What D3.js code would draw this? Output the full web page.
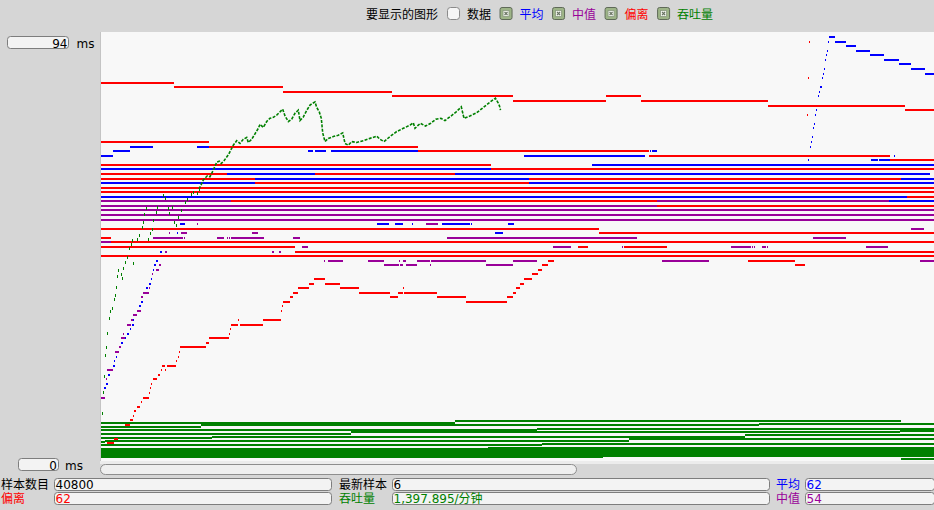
<!DOCTYPE html>
<html><head><meta charset="utf-8">
<script src="https://cdn.jsdelivr.net/npm/d3@7"></script>
<style>
body{margin:0;background:#d6d6d6;}
svg{display:block;font-family:"DejaVu Sans","Noto Sans CJK SC",sans-serif;font-size:12px;}
</style></head><body>
<svg id="c" width="934" height="510"></svg>
<script>
// ---------------- DATA ----------------
const legendTitle = "要显示的图形";
const legendLabels = ["数据", "平均", "中值", "偏离", "吞吐量"];
const legendChecked = [false, true, true, true, true];
const legendColors = ["#000000", "#0000ff", "#990099", "#ff0000", "#008000"];

const yTickLabels = ["94", "0"];
const yUnit = "ms";
const yMax = 94;
const sampleColumns = 833;

// segments: [fromSample, toSample, value(ms)]
const meanSegments = [
  [706.8,707.8,66],[709,710,69],[709.8,710.8,70],[711,712,71],[712,713,73],[713,714,74],[714,715,76],[715,716,77],
  [716.5,718,80],[718,719,81],[719,721,82],[721,722,84],[722,723,85],[723,724,86],[724,725,88],[725,726,89],[726,727,90],[727,728,92],
  [728,734,93],[734,745,92],[745,755,91],[755,769,90],[769,783,89],[783,798,88],[798,810,87],[810,824,86],[824,833,85],
  [29,52,69],[96,108,69],
  [12,29,68],[207,212,68],[214,225,68],[230,317,68],[549,550,68],[551,556,68],
  [0,12,67],[423,544,67],[793,794,67],
  [770,777,66],[778,789,66],
  [491,833,65],
  [0,390,64],
  [126,214,63],[354,829,63],
  [154,428,62],[800,833,62],
  [0,154,61],[428,833,61],
  [0,806,58],
  [788,833,57],
  [79,84,52],[276,288,52],[294,302,52],[311,312,52],[341,369,52],[370,371,52],[407,413,52],
  [75.7,76.7,50],[394,402,50],
  [59,61,46],[55,57,44],[53,55,43],
  [2.5,4,16],[4.5,6,17],[6.5,9,19],[11.5,13.5,21],[13,14,22],[14.5,15.5,23],[19.5,21.5,26],[22.5,24.5,27],[26,28,28],
  [28.5,29.5,29],[30.5,32.5,30],[31.5,32.5,31],[37.5,39.5,34],[39.5,41,35],[45,47,38],[47.5,49.5,39],[49.5,50.5,40],[52,53,42]
];

const medianSegments = [
  [0,130,57],[556,788,57],
  [0,556,56],
  [0,833,55],[0,833,54],[0,833,53],
  [96,97,52],[325,337,52],
  [810,823,51],
  [68,69,50],[80,86,50],[151,157,50],
  [52,82,49],[83,84,49],[116,123,49],[126,127,49],[128,129,49],[130,163,49],[192,199,49],[346,536,49],[712,745,49],
  [0,10,48],
  [201,207,47],[452,470,47],[521,522,47],[630,650,47],[651,652,47],[653,654,47],[661,665,47],[666,667,47],[765,787,47],
  [64,66,46],[171,173,46],[178,180,46],
  [223,224,44],[227,242,44],[267,283,44],[298,299,44],[302,305,44],[316,329,44],[330,385,44],[412,436,44],[561,608,44],[819,833,44],
  [58,60,43],[283,298,43],[299,302,43],[305,316,43],[329,330,43],[385,412,43],
  [0,4,14],[4.7,6,18],[6,12,20],[14,18,24],[18,20,25],[20,24,27],[22,23,28],[26,30,30],[30,32,31],[32,36,32],[36,40,33],
  [40,41.7,36],[42,48,37],[48,49,38],[51,52,41],[55,58,42]
];

const deviationSegments = [
  [0,73,83],[73,182,82],[182,291,81],[291,412,80],[412,505,79],[505,540,80],[540,667,79],[667,804,78],[804,833,77],
  [707.5,708.5,92],[706.8,707.8,84],[705.8,706.8,76],
  [0,108,70],[108,317,69],[317,548,68],[548,789,67],[789,833,66],
  [0,390,65],[390,833,64],
  [0,126,63],[214,354,63],
  [0,154,62],[428,800,62],
  [154,428,61],
  [0,833,60],[0,833,59],
  [806,833,58],
  [130,556,57],
  [556,833,56],
  [0,498,51],
  [498,833,50],
  [0,10,49],
  [10,833,48],
  [0,194,47],[477,487,47],[523,566,47],
  [194,833,46],
  [0,833,45],
  [647,694,44],[694,704,43],
  [0,2,0],[5.7,13,4],[13,17,5],[24,29,8],[29,32,9],[32,33,10],[33.3,35.7,11],[36.3,39.7,12],[40.3,41.3,13],[42.3,48,14],
  [48.3,49,15],[48.7,49.7,16],[50.3,51.3,17],[52.3,56.7,18],[57.3,59.7,19],[60.3,61.3,20],[61.3,64,21],[64.3,65.3,20],
  [66.3,75,21],[75.3,76.3,22],[77,78,23],[77.7,78.5,24],[79,105,25],[105,108,26],[108,128,27],[128,129,28],[128.7,129.5,29],
  [130,136.7,30],[137,138,31],[139,161.7,30],[161.7,180,31],[179.7,180.5,33],[181,182,34],[182,189,35],[189,192,36],
  [192,197,37],[197,208,38],[208,213,39],[213,224,40],[224,239,39],[239,258,38],[258,289,37],[289,297,36],[297,302,37],
  [301.7,302.5,38],[303,336,37],[336,365,36],[365,406,35],[406,412,36],[412,415,37],[415,419,38],[419,423,39],[423,431,40],
  [431,437,41],[437,441,42],[441,447,43],[447,453,44]
];

// throughput: flat runs near the bottom, then the rising trace [sample, value]
const throughputSegments = [
  [0,354,8.5],[354,800,8.8],
  [0,100,7.6],[100,658,7.9],[658,833,8.2],
  [0,436,6.9],[436,833,7.2],
  [0,250,6.1],[250,799,6.4],[799,833,6.7],
  [0,111,5.1],[111,644,5.4],[644,833,5.7],
  [0,4,4.3],[4,528,4.6],[528,833,4.9],
  [0,441,3.7],[441,833,3.9],
  [0,387,2.7],[387,833,3.0],[0,833,2.5],[0,833,2.2],[0,833,1.9],[0,833,1.6],[0,833,1.3],[0,502,1.0],[502,833,1.2],[800,833,0.6]
];
const throughputPoints = [
  [0.7,10.7],[2,15.3],[3,18.7],[4,23.3],[5,25.1],[6,28.2],[8,31.5],[9,33.0],[11,33.7],[12.7,35.7],[14,36.5],[15,38.3],
  [16,40.7],[17,42.0],[19.7,41.1],[21,40.1],[22,42.5],[24,43.8],[25.7,44.7],[28,46.8],[29.7,47.7],[31.3,48.5],[31.7,43.5],
  [36.3,48.8],[38.3,49.6],[40.7,51.4],[41.7,52.5],[42.7,54.2],[44.7,55.5],[47.3,48.8],[49,50.1],[50.7,50.9],[52.3,52.9],
  [55,54.7],[56.3,55.7],[61.7,58.4],[64,57.7],[66.7,55.5],[68.3,54.5],[70.7,55.8],[73,52.5],[75,51.8],[77.3,53.6],[79.7,55.1],
  [84,56.9],[86.3,57.6],[90,58.6],[92.3,59.1],[95.7,58.8],[98,59.7],[100.3,60.7],[102.3,61.7],[106.3,62.6],[109,62.4],
  [111.3,63.4],[114,64.7],[115.7,65.6],[118.3,65.8],[120.3,65.3],[123,65.9],[125.7,66.7],[127.7,67.3],[129,67.9],[132.3,69.3],
  [135.7,70.3],[139,69.7],[142.3,70.6],[145.7,71.0],[147.3,69.9],[150.7,70.6],[154,71.8],[157.3,73.0],[159,73.9],[162.3,73.2],
  [165.7,74.5],[169,75.2],[172.3,75.4],[175.7,75.9],[179,76.6],[181.7,77.2],[184,75.7],[187.3,74.5],[190.7,75.0],[194,76.3],
  [197.3,77.0],[199,74.7],[202.3,75.5],[205.7,76.9],[209,78.1],[214,78.8],[215.7,77.6],[218.3,76.6],[220.3,75.2],[221.7,72.0],
  [224,70.1],[227.3,70.8],[232.3,71.2],[237.3,71.5],[241.7,72.0],[244,69.7],[247.3,69.3],[250.7,70.1],[255.7,69.9],[262.3,70.3],
  [269,70.8],[275.7,71.3],[279,70.6],[283,70.1],[289,71.2],[295.7,72.3],[302.3,73.0],[309,73.7],[312.3,74.2],[314,73.0],
  [317.3,73.7],[319.4,74.1],[324.5,73.5],[329.7,74.1],[334.8,75.0],[339.9,75.2],[344,74.7],[350,75.7],[355.2,76.6],[360.3,77.7],
  [363,75.2],[368.8,75.7],[375.6,76.4],[382.4,77.6],[389.3,78.8],[394.4,79.6],[397.1,78.6],[398.5,77.9],[399.5,77.0]
];

const statLabels = [["样本数目","最新样本","平均"],["偏离","吞吐量","中值"]];
const statValues = [["40800","6","62"],["62","1,397.895/分钟","54"]];
const statLabelColors = [["#000000","#000000","#0000ff"],["#ff0000","#008000","#990099"]];
const statValueColors = [["#000000","#000000","#0000ff"],["#ff0000","#008000","#990099"]];

// ---------------- DRAW ----------------
const svg = d3.select("#c");
svg.append("rect").attr("width",934).attr("height",510).attr("fill","#d6d6d6");

// plot panel
svg.append("rect").attr("x",100).attr("y",32).attr("width",834).attr("height",429).attr("fill","#f8f8f8");
svg.append("line").attr("x1",100.5).attr("x2",100.5).attr("y1",32).attr("y2",461).attr("stroke","#c4c4c4");
svg.append("defs").append("clipPath").attr("id","pc").append("rect").attr("x",101).attr("y",32).attr("width",833).attr("height",429);

const xs = d3.scaleLinear().domain([0, sampleColumns]).range([101, 934]);
const ys = d3.scaleLinear().domain([0, yMax]).range([460.5, 31.5]);

const plot = svg.append("g").attr("clip-path","url(#pc)").attr("shape-rendering","crispEdges");
function drawSegs(data, color){
  plot.append("g").selectAll("rect").data(data).join("rect")
    .attr("x", d => Math.round(xs(d[0])))
    .attr("width", d => Math.max(Math.round(xs(d[1]) - xs(d[0])), 1))
    .attr("y", d => Math.round(ys(d[2])))
    .attr("height", 2)
    .attr("fill", color);
}
drawSegs(throughputSegments, "#008000");
drawSegs(meanSegments, "#0000ff");
drawSegs(medianSegments, "#990099");
drawSegs(deviationSegments, "#ff0000");

// throughput trace
const early = throughputPoints.filter(d => d[0] < 100);
const late = throughputPoints.filter(d => d[0] >= 98);
plot.append("g").selectAll("rect").data(early).join("rect")
  .attr("x", d => Math.round(xs(d[0]))).attr("y", d => Math.round(ys(d[1])))
  .attr("width", 1).attr("height", 3).attr("fill", "#008000");
plot.append("path").datum(late)
  .attr("d", d3.line().x(d => xs(d[0])).y(d => ys(d[1]) + 1))
  .attr("fill","none").attr("stroke","#008000").attr("stroke-width",1.6)
  .attr("shape-rendering","auto")
  .attr("stroke-dasharray","3,1.4");

// y labels
function field(x, y, w, h){
  svg.append("rect").attr("x",x+0.5).attr("y",y+0.5).attr("width",w).attr("height",h).attr("rx",3)
    .attr("fill","#f3f3f3").attr("stroke","#7d7d7d");
}
field(7, 36, 61, 12);
svg.append("text").attr("x",67.5).attr("y",47.5).attr("text-anchor","end").text(yTickLabels[0]);
svg.append("text").attr("x",76.5).attr("y",47.5).text(yUnit);
field(18, 458, 40, 12);
svg.append("text").attr("x",57).attr("y",469.5).attr("text-anchor","end").text(yTickLabels[1]);
svg.append("text").attr("x",65).attr("y",469.5).text(yUnit);

// scrollbar
svg.append("rect").attr("x",100).attr("y",461).attr("width",834).attr("height",3).attr("fill","#ececec");
svg.append("rect").attr("x",100.5).attr("y",464.5).attr("width",476).attr("height",10).attr("rx",5)
  .attr("fill","#efefef").attr("stroke","#8e8e8e");

// legend
const lg = svg.append("g");
const title = lg.append("text").attr("x",366).attr("y",19).text(legendTitle);
let cx = 366 + title.node().getComputedTextLength() + 9;
legendLabels.forEach((lab, i) => {
  const bx = cx;
  if (legendChecked[i]) {
    lg.append("rect").attr("x",bx+0.5).attr("y",7.5).attr("width",12).attr("height",12).attr("rx",2)
      .attr("fill","#9db487").attr("stroke","#5f6a58");
    lg.append("rect").attr("x",bx+3.5).attr("y",10.5).attr("width",6).attr("height",6)
      .attr("fill","#eef2ea").attr("stroke","#8a9a80").attr("stroke-width",0.8);
    lg.append("path").attr("d",`M${bx+5},${12} L${bx+8},${15} M${bx+8},${12} L${bx+5},${15}`)
      .attr("stroke","#6a7464").attr("stroke-width",1.1);
  } else {
    lg.append("rect").attr("x",bx+0.5).attr("y",7.5).attr("width",12).attr("height",12).attr("rx",3)
      .attr("fill","#f6f6f6").attr("stroke","#8a8a8a");
  }
  const t = lg.append("text").attr("x",bx+20).attr("y",19).attr("fill",legendColors[i]).text(lab);
  cx = bx + 20 + t.node().getComputedTextLength() + 8.5;
});

// stats rows
const colLabelX = [1, 339, 776];
const colFieldX = [54, 392, 805];
const colFieldW = [277, 377, 129];
const rowY = [478, 492];
statLabels.forEach((row, r) => {
  row.forEach((lab, c) => {
    field(colFieldX[c], rowY[r], colFieldW[c], 12);
    svg.append("text").attr("x",colLabelX[c]).attr("y",rowY[r]+11).attr("fill",statLabelColors[r][c]).text(lab);
    svg.append("text").attr("x",colFieldX[c]+1.5).attr("y",rowY[r]+11).attr("fill",statValueColors[r][c]).text(statValues[r][c]);
  });
});
</script>
</body></html>
